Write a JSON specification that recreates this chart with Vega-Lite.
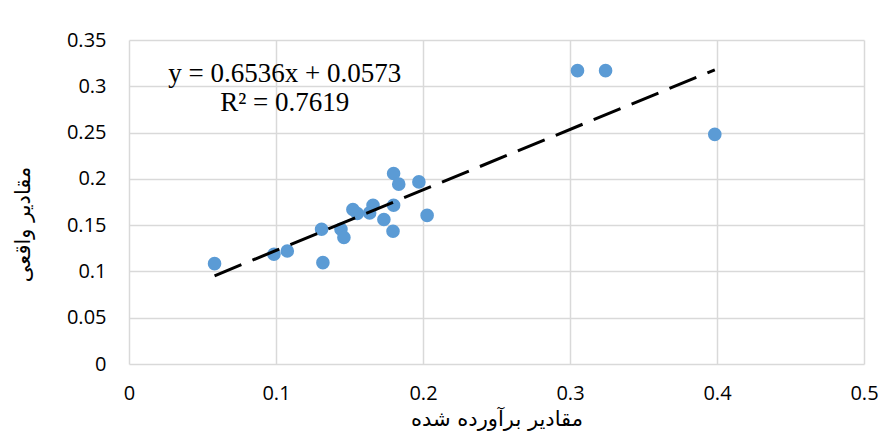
{
  "$schema": "https://vega.github.io/schema/vega-lite/v6.json",
  "autosize": "none",
  "width": 735,
  "height": 324,
  "padding": {"left": 129, "top": 40, "right": 21, "bottom": 75},
  "background": "white",
  "config": {
    "view": {"stroke": null},
    "axis": {
      "gridColor": "#D9D9D9",
      "gridWidth": 1.5,
      "domain": false,
      "ticks": false,
      "labelFont": "Open Sans",
      "labelFontSize": 20,
      "labelColor": "#000000",
      "titleFont": "DejaVu Sans",
      "titleFontSize": 21,
      "titleFontWeight": "normal",
      "titleColor": "#000000",
      "format": "~g"
    }
  },
  "datasets": {
    "points": [
      {"x": 0.0582, "y": 0.1084},
      {"x": 0.0986, "y": 0.1185},
      {"x": 0.1077, "y": 0.1221},
      {"x": 0.1310, "y": 0.1456},
      {"x": 0.1319, "y": 0.1095},
      {"x": 0.1442, "y": 0.1456},
      {"x": 0.1462, "y": 0.1366},
      {"x": 0.1523, "y": 0.1669},
      {"x": 0.1553, "y": 0.1626},
      {"x": 0.1660, "y": 0.1715},
      {"x": 0.1637, "y": 0.1632},
      {"x": 0.1734, "y": 0.1561},
      {"x": 0.1796, "y": 0.1434},
      {"x": 0.1800, "y": 0.2058},
      {"x": 0.1835, "y": 0.1943},
      {"x": 0.1800, "y": 0.1715},
      {"x": 0.1972, "y": 0.1967},
      {"x": 0.2028, "y": 0.1605},
      {"x": 0.3051, "y": 0.3169},
      {"x": 0.3242, "y": 0.3169},
      {"x": 0.3985, "y": 0.2480}
    ],
    "trend": [
      {"x": 0.0582, "y": 0.0953},
      {"x": 0.3985, "y": 0.3178}
    ],
    "labels": [
      {"text": "y = 0.6536x + 0.0573", "x": 0.1059, "y": 0.3041},
      {"text": "R² = 0.7619", "x": 0.1059, "y": 0.2738}
    ]
  },
  "layer": [
    {
      "data": {"name": "points"},
      "mark": {"type": "circle", "size": 185, "color": "#5B9BD5", "opacity": 1},
      "encoding": {
        "x": {
          "field": "x", "type": "quantitative",
          "scale": {"domain": [0, 0.5], "nice": false, "zero": true},
          "axis": {"values": [0, 0.1, 0.2, 0.3, 0.4, 0.5], "labelPadding": 19, "title": "مقادیر برآورده شده", "titlePadding": 5, "labelFlush": false}
        },
        "y": {
          "field": "y", "type": "quantitative",
          "scale": {"domain": [0, 0.35], "nice": false},
          "axis": {"values": [0, 0.05, 0.1, 0.15, 0.2, 0.25, 0.3, 0.35], "labelPadding": 23, "title": "مقادیر واقعی", "titlePadding": 33, "titleY": 184, "labelFlush": false}
        }
      }
    },
    {
      "data": {"name": "trend"},
      "mark": {"type": "line", "color": "#000000", "strokeWidth": 3, "strokeDash": [29, 12], "strokeCap": "butt"},
      "encoding": {
        "x": {"field": "x", "type": "quantitative"},
        "y": {"field": "y", "type": "quantitative"}
      }
    },
    {
      "data": {"name": "labels"},
      "mark": {"type": "text", "font": "Liberation Serif", "fontSize": 27, "align": "center", "baseline": "alphabetic", "color": "#000000"},
      "encoding": {
        "x": {"field": "x", "type": "quantitative"},
        "y": {"field": "y", "type": "quantitative"},
        "text": {"field": "text"}
      }
    }
  ]
}
